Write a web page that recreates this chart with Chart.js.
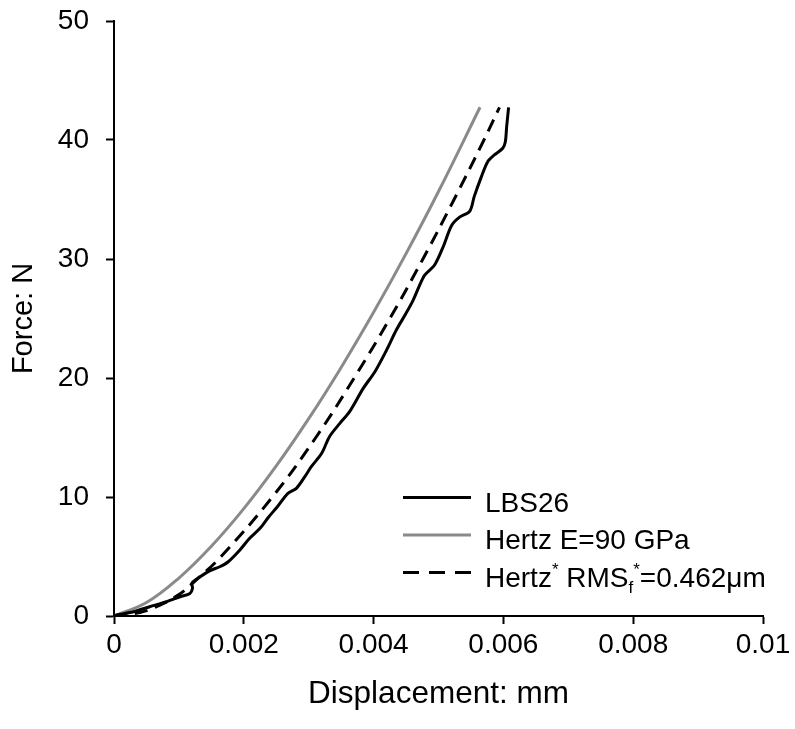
<!DOCTYPE html>
<html><head><meta charset="utf-8">
<script src="https://cdn.jsdelivr.net/npm/chart.js@4.4.1/dist/chart.umd.min.js"></script>
<style>html,body{margin:0;padding:0;background:#fff;}#wrap{width:795px;height:729px;}</style>
</head><body><div id="wrap"><canvas id="c" width="795" height="729"></canvas></div>
<script>
// ---- data ----
const lbsDisp  = [0,0.00004,0.0003,0.00055,0.00081,0.00102,0.00117,0.00121,0.0012,0.00127,0.00148,0.00163,0.00176,0.00194,0.00209,0.00225,0.00238,0.00252,0.00268,0.00281,0.00294,0.00304,0.0032,0.00332,0.00348,0.00363,0.00384,0.00402,0.0042,0.00435,0.0045,0.00461,0.00471,0.00479,0.00494,0.00507,0.0052,0.00532,0.00548,0.00555,0.00566,0.00576,0.00586,0.00599,0.00603,0.00605,0.00608];
const lbsForce = [0,0.08,0.36,0.78,1.2,1.62,1.9,2.33,2.75,3.08,3.81,4.14,4.56,5.55,6.53,7.37,8.3,9.2,10.31,10.73,11.71,12.55,13.67,15.07,16.19,17.17,19.13,20.53,22.35,24.03,25.44,26.55,27.8,28.66,29.5,31.0,32.8,33.5,34.0,35.24,36.9,38.2,38.74,39.3,39.86,41.1,42.75];
const hertzDisp  = [0,0.0005,0.001,0.0015,0.002,0.0025,0.003,0.0035,0.004,0.0045,0.005,0.00564];
const hertzForce = [0,1.13,3.19,5.86,9.02,12.61,16.58,20.89,25.52,30.45,35.67,42.75];
const hertzStarDisp  = [0,0.0004,0.0007,0.001,0.00126,0.00165,0.00244,0.00311,0.0037,0.00425,0.00476,0.00524,0.0057,0.00594];
const hertzStarForce = [0,0.3,0.9,1.8,3.0,5.0,10,15,20,25,30,35,40,42.75];
const seriesLabels = ['LBS26','Hertz E=90 GPa','Hertz* RMSf*=0.462μm'];
const xTickValues = [0,0.002,0.004,0.006,0.008,0.01];
const xTickLabels = ['0','0.002','0.004','0.006','0.008','0.01'];
const yTickValues = [0,10,20,30,40,50];
const yTickLabels = ['0','10','20','30','40','50'];
const xTitle = 'Displacement: mm';
const yTitle = 'Force: N';
// legend rich-text parts (superscript / subscript)
const legendParts = [
  [{t:'LBS26'}],
  [{t:'Hertz E=90 GPa'}],
  [{t:'Hertz'},{t:'*',sup:true},{t:' RMS'},{t:'f',sub:true},{t:'*',sup:true},{t:'=0.462μm'}]
];

const FONT = "'Liberation Sans', Arial, sans-serif";
const pts = (xs, ys) => xs.map((x,i)=>({x:x, y:ys[i]}));

const insideLegend = {
  id:'insideLegend',
  afterDraw(chart){
    const ctx = chart.ctx;
    const ca = chart.chartArea;
    const x0 = ca.left + 289, x1 = ca.left + 357, tx = ca.left + 371;
    const rows = [ca.bottom - 118.5, ca.bottom - 81, ca.bottom - 43.5];
    ctx.save();
    chart.data.datasets.forEach((ds, i) => {
      const ly = rows[i];
      ctx.beginPath();
      ctx.lineWidth = 3;
      ctx.strokeStyle = ds.borderColor;
      ctx.setLineDash(i === 2 ? [16,10] : []);
      ctx.lineCap = 'butt';
      ctx.moveTo(x0, ly); ctx.lineTo(x1, ly); ctx.stroke();
      ctx.setLineDash([]);
      let x = tx;
      const base = ly + 14;
      ctx.fillStyle = '#000';
      ctx.textBaseline = 'alphabetic';
      ctx.textAlign = 'left';
      legendParts[i].forEach(p => {
        let size = 28, y = base;
        if (p.sup) { size = 17; y = base - 12; }
        if (p.sub) { size = 17; y = base + 6; }
        ctx.font = size + 'px ' + FONT;
        ctx.fillText(p.t, x, y);
        x += ctx.measureText(p.t).width;
      });
    });
    ctx.restore();
  }
};

new Chart(document.getElementById('c'), {
  type: 'scatter',
  data: {
    datasets: [
      {label: seriesLabels[0], data: pts(lbsDisp, lbsForce), showLine:true, borderColor:'#000000', backgroundColor:'#000000', borderWidth:3, pointRadius:0, tension:0.3},
      {label: seriesLabels[1], data: pts(hertzDisp, hertzForce), showLine:true, borderColor:'#8a8a8a', backgroundColor:'#8a8a8a', borderWidth:3, pointRadius:0, tension:0.4},
      {label: seriesLabels[2], data: pts(hertzStarDisp, hertzStarForce), showLine:true, borderColor:'#000000', backgroundColor:'#000000', borderWidth:3, borderDash:[13,8], pointRadius:0, tension:0.4}
    ]
  },
  options: {
    responsive:false, animation:false, devicePixelRatio:1,
    layout: {padding:{left:0, right:32, top:21, bottom:0}},
    plugins: {legend:{display:false}, tooltip:{enabled:false}},
    scales: {
      x: {
        type:'linear', min:0, max:0.01,
        afterFit(s){ s.height = 113; },
        afterBuildTicks(s){ s.ticks = xTickValues.map(v=>({value:v})); },
        ticks: {color:'#000', font:{family:FONT, size:28}, padding:4, maxRotation:0, autoSkip:false,
          callback:(v)=>{ const i = xTickValues.findIndex(t=>Math.abs(t-v)<1e-9); return i>=0 ? xTickLabels[i] : ''; }},
        grid: {drawOnChartArea:false, drawTicks:true, tickLength:8, tickWidth:2, tickColor:'#000', color:'#000'},
        border: {display:true, color:'#000', width:2},
        title: {display:true, text:xTitle, color:'#000', font:{family:FONT, size:31.5}, padding:{top:0, bottom:16}}
      },
      y: {
        type:'linear', min:0, max:50,
        afterFit(s){ s.width = 114; s.paddingTop = 0; s.paddingBottom = 0; },
        afterBuildTicks(s){ s.ticks = yTickValues.map(v=>({value:v})); },
        ticks: {color:'#000', font:{family:FONT, size:28}, padding:17,
          callback:(v)=>{ const i = yTickValues.indexOf(v); return i>=0 ? yTickLabels[i] : ''; }},
        grid: {drawOnChartArea:false, drawTicks:true, tickLength:8, tickWidth:2, tickColor:'#000', color:'#000'},
        border: {display:true, color:'#000', width:2},
        title: {display:true, text:yTitle, color:'#000', font:{family:FONT, size:29}, padding:{top:7, bottom:0}}
      }
    }
  },
  plugins: [insideLegend]
});
</script>
</body></html>
